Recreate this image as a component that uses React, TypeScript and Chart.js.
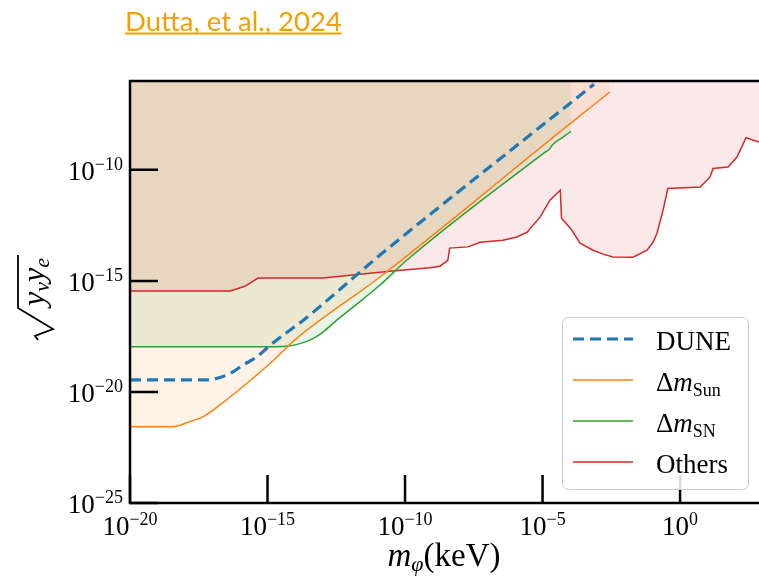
import React, { useEffect, useRef } from 'react';
import { Chart, registerables } from 'chart.js';

Chart.register(...registerables);

// ---------------- data ----------------
const X_MIN = 1e-20;
const X_MAX = 741;
const Y_MIN = 1e-25;
const Y_MAX = 1e-6;

const xTickValues = [1e-20, 1e-15, 1e-10, 1e-5, 1];
const xTickExponents = ['−20', '−15', '−10', '−5', '0'];
const yTickValues = [1e-25, 1e-20, 1e-15, 1e-10];
const yTickExponents = ['−25', '−20', '−15', '−10'];

const titleText = 'Dutta, et al., 2024';

// DUNE (dashed blue)
const duneMass = [1e-20, 8.1e-18, 1.86e-17, 4.4e-17, 1.29e-16, 4.1e-16, 1.07e-15, 3.7e-15, 2.0e-14, 1.23e-11, 7.4e-4];
const duneCoupling = [3.5e-20, 3.5e-20, 4.5e-20, 6.8e-20, 1.62e-19, 3.8e-19, 1.07e-18, 3.6e-18, 1.7e-17, 1.45e-14, 7.1e-7];

// Δm_Sun (orange)
const sunMass = [1e-20, 3.6e-19, 1.5e-18, 4.5e-18, 1.86e-17, 1.74e-16, 1.23e-15, 1.15e-14, 1.23e-11, 1e-4, 2.8e-3];
const sunCoupling = [2.7e-22, 2.7e-22, 4.6e-22, 7.6e-22, 2.6e-21, 2.4e-20, 1.9e-19, 2.6e-18, 1.5e-15, 1.2e-8, 3.2e-7];

// Δm_SN (green)
const snMass = [1e-20, 6.9e-16, 5.0e-15, 1.5e-14, 4.7e-14, 1.07e-13, 3.3e-13, 1.23e-11, 1.15e-10, 1.05e-5, 1.86e-5, 2.2e-5, 5.6e-5, 1.07e-4];
const snCoupling = [1.07e-18, 1.07e-18, 1.15e-18, 1.5e-18, 2.6e-18, 5.1e-18, 1.7e-17, 6.5e-16, 8.5e-15, 5.4e-10, 9.1e-10, 1.26e-9, 3.0e-9, 5.4e-9];

// Others (red)
const othersMass = [
  1e-20, 4.4e-17, 1.5e-16, 4.5e-16, 1.05e-13, 1e-12, 2.8e-11, 8.1e-10, 1.86e-9, 3.6e-9, 4.2e-9,
  1.95e-8, 5.4e-8, 3.6e-7, 1.17e-6, 2.75e-6, 8.1e-6, 1.86e-5, 4.4e-5, 4.9e-5, 1.17e-4, 2.3e-4,
  6.9e-4, 1.6e-3, 3.6e-3, 1.95e-2, 6.3e-2, 0.105, 0.145, 0.24, 0.36, 5.4, 12.3, 15.8, 56, 117, 251, 741,
];
const othersCoupling = [
  3.5e-16, 3.5e-16, 5.7e-16, 1.35e-15, 1.35e-15, 1.8e-15, 2.75e-15, 3.9e-15, 4.6e-15, 8.5e-15, 3.0e-14,
  3.4e-14, 5.5e-14, 6.8e-14, 9.5e-14, 1.55e-13, 7.4e-13, 4.3e-12, 1.2e-11, 6.6e-13, 1.9e-13, 5.0e-14,
  2.4e-14, 1.6e-14, 1.2e-14, 1.17e-14, 2.4e-14, 5.6e-14, 1.4e-13, 1.5e-12, 1.45e-11, 1.7e-11, 4.8e-11, 1.15e-10, 1.35e-10, 3.8e-10, 2.8e-9, 1.8e-9,
];

const BLUE = '#1f77b4';
const ORANGE = '#ff7f0e';
const GREEN = '#2ca02c';
const RED = '#d62728';

// ---------------- helpers ----------------
const SERIF = '"Liberation Serif", "DejaVu Serif", serif';
const f = (size: number, italic = false) => `${italic ? 'italic ' : ''}${size}px ${SERIF}`;

type Run = { text: string; font: string; dy?: number };

function drawRuns(ctx: CanvasRenderingContext2D, runs: Run[], x: number, y: number, align: 'left' | 'center' | 'right') {
  let total = 0;
  const widths = runs.map((r) => {
    ctx.font = r.font;
    const w = ctx.measureText(r.text).width;
    total += w;
    return w;
  });
  let cx = align === 'left' ? x : align === 'center' ? x - total / 2 : x - total;
  ctx.textAlign = 'left';
  ctx.textBaseline = 'alphabetic';
  runs.forEach((r, i) => {
    ctx.font = r.font;
    ctx.fillText(r.text, cx, y + (r.dy || 0));
    cx += widths[i];
  });
  return total;
}

const decorPlugin = {
  id: 'decor',
  afterDraw(chart: any) {
    const ctx: CanvasRenderingContext2D = chart.ctx;
    const { left, right, top, bottom } = chart.chartArea;
    const xs = chart.scales.x;
    const ys = chart.scales.y;
    ctx.save();

    // spines
    ctx.strokeStyle = '#000';
    ctx.lineWidth = 2.5;
    ctx.beginPath();
    ctx.moveTo(left, top);
    ctx.lineTo(right + 5, top);
    ctx.moveTo(left, top - 1.25);
    ctx.lineTo(left, bottom + 1.25);
    ctx.moveTo(left, bottom);
    ctx.lineTo(right + 5, bottom);
    ctx.stroke();

    // inward major ticks
    const TL = 28;
    ctx.beginPath();
    xTickValues.forEach((v) => {
      const px = xs.getPixelForValue(v);
      ctx.moveTo(px, bottom);
      ctx.lineTo(px, bottom - TL);
    });
    yTickValues.forEach((v) => {
      const py = ys.getPixelForValue(v);
      ctx.moveTo(left, py);
      ctx.lineTo(left + TL, py);
    });
    ctx.stroke();

    // tick labels
    ctx.fillStyle = '#000';
    xTickValues.forEach((v, i) => {
      const px = xs.getPixelForValue(v);
      drawRuns(ctx, [
        { text: '10', font: f(27) },
        { text: xTickExponents[i], font: f(18), dy: -10 },
      ], px, bottom + 32, 'center');
    });
    yTickValues.forEach((v, i) => {
      const py = ys.getPixelForValue(v);
      drawRuns(ctx, [
        { text: '10', font: f(27) },
        { text: yTickExponents[i], font: f(18), dy: -10 },
      ], left - 7, py + 10, 'right');
    });

    // x axis label
    drawRuns(ctx, [
      { text: 'm', font: f(33, true) },
      { text: 'φ', font: f(22, true), dy: 5 },
      { text: '(keV)', font: f(33) },
    ], 444, bottom + 63, 'center');

    // y axis label (rotated)
    ctx.save();
    ctx.translate(44, 336);
    ctx.rotate(-Math.PI / 2);
    const tx = 30;
    const w = drawRuns(ctx, [
      { text: 'y', font: f(32, true) },
      { text: 'ν', font: f(22, true), dy: 5 },
      { text: 'y', font: f(32, true) },
      { text: 'e', font: f(22, true), dy: 5 },
    ], tx, 0, 'left');
    ctx.strokeStyle = '#000';
    ctx.lineWidth = 1.8;
    ctx.lineJoin = 'miter';
    ctx.beginPath();
    ctx.moveTo(-4, -6);
    ctx.lineTo(0, -9);
    ctx.lineTo(7, 9);
    ctx.lineTo(28, -26);
    ctx.lineTo(tx + w + 3, -26);
    ctx.stroke();
    ctx.restore();

    // legend
    const bx = right - 197, by = bottom - 186, bw = 186, bh = 172;
    ctx.fillStyle = 'rgba(255,255,255,0.85)';
    ctx.strokeStyle = '#cccccc';
    ctx.lineWidth = 1;
    ctx.beginPath();
    (ctx as any).roundRect(bx + 0.5, by + 0.5, bw, bh, 6);
    ctx.fill();
    ctx.stroke();

    const rows = [
      { color: BLUE, width: 3.2, dash: [11, 6], runs: [{ text: 'DUNE', font: f(27) }] },
      { color: ORANGE, width: 1.5, dash: [], runs: [{ text: 'Δ', font: f(27) }, { text: 'm', font: f(27, true) }, { text: 'Sun', font: f(18), dy: 5 }] },
      { color: GREEN, width: 1.5, dash: [], runs: [{ text: 'Δ', font: f(27) }, { text: 'm', font: f(27, true) }, { text: 'SN', font: f(18), dy: 5 }] },
      { color: RED, width: 1.5, dash: [], runs: [{ text: 'Others', font: f(27) }] },
    ];
    rows.forEach((r, i) => {
      const cy = by + 22 + i * 41;
      ctx.strokeStyle = r.color;
      ctx.lineWidth = r.width;
      ctx.setLineDash(r.dash);
      ctx.beginPath();
      ctx.moveTo(bx + 11, cy);
      ctx.lineTo(bx + 71, cy);
      ctx.stroke();
      ctx.setLineDash([]);
      ctx.fillStyle = '#000';
      drawRuns(ctx, r.runs as Run[], bx + 94, cy + 11, 'left');
    });

    // title (link style)
    ctx.fillStyle = '#f5a000';
    ctx.font = '27.5px Lato, "Open Sans", sans-serif';
    ctx.textAlign = 'left';
    ctx.textBaseline = 'alphabetic';
    ctx.fillText(titleText, 125, 31);
    const tw = ctx.measureText(titleText).width;
    ctx.fillRect(125, 32.5, tw, 2);

    ctx.restore();
  },
};

const pts = (xs: number[], ys: number[]) => xs.map((x, i) => ({ x, y: ys[i] }));

export default function App() {
  const ref = useRef<HTMLCanvasElement | null>(null);
  useEffect(() => {
    if (!ref.current) return;
    const chart = new Chart(ref.current, {
      type: 'line',
      data: {
        datasets: [
          {
            label: 'DUNE', data: pts(duneMass, duneCoupling), borderColor: BLUE, borderWidth: 3.2,
            borderDash: [11, 6], fill: false, pointRadius: 0, cubicInterpolationMode: 'monotone',
          },
          {
            label: 'Sun', data: pts(sunMass, sunCoupling), borderColor: ORANGE, borderWidth: 1.5,
            fill: 'end', backgroundColor: 'rgba(255,127,14,0.1)', pointRadius: 0, cubicInterpolationMode: 'monotone',
          },
          {
            label: 'SN', data: pts(snMass, snCoupling), borderColor: GREEN, borderWidth: 1.5,
            fill: 'end', backgroundColor: 'rgba(44,160,44,0.1)', pointRadius: 0, cubicInterpolationMode: 'monotone',
          },
          {
            label: 'Others', data: pts(othersMass, othersCoupling), borderColor: RED, borderWidth: 1.5,
            fill: 'end', backgroundColor: 'rgba(214,39,40,0.1)', pointRadius: 0, tension: 0,
          },
        ],
      } as any,
      options: {
        responsive: false,
        animation: false,
        devicePixelRatio: 1,
        events: [],
        layout: { padding: { left: 130, top: 81, right: 0, bottom: 81 } },
        scales: {
          x: { type: 'logarithmic', min: X_MIN, max: X_MAX, bounds: 'data', display: false },
          y: { type: 'logarithmic', min: Y_MIN, max: Y_MAX, bounds: 'data', display: false },
        },
        plugins: {
          legend: { display: false },
          tooltip: { enabled: false },
          filler: { drawTime: 'beforeDatasetsDraw' },
        },
      } as any,
      plugins: [decorPlugin],
    });
    return () => chart.destroy();
  }, []);
  return (
    <div style={{ position: 'absolute', left: 0, top: 0, width: 759, height: 584, background: '#fff' }}>
      <canvas ref={ref} width={759} height={584} style={{ display: 'block' }} />
    </div>
  );
}
